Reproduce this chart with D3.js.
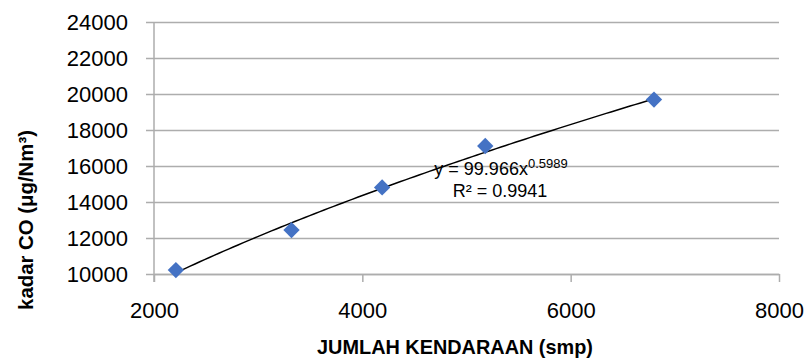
<!DOCTYPE html>
<html>
<head>
<meta charset="utf-8">
<script src="https://cdn.jsdelivr.net/npm/d3@7"></script>
<style>
  html, body { margin: 0; padding: 0; background: #fff; }
  svg { display: block; font-family: "Liberation Sans", Arial, sans-serif; }
</style>
</head>
<body>
<svg id="chart" width="810" height="363"></svg>
<script>
// Data
const jumlahKendaraan = [2210, 3320, 4190, 5180, 6800];
const kadarCO = [10220, 12440, 14810, 17110, 19690];
const xTicks = [2000, 4000, 6000, 8000];
const yTicks = [10000, 12000, 14000, 16000, 18000, 20000, 22000, 24000];
const trendCoef = [99.966, 0.5989];
const equationLines = ["y = 99.966x", "0.5989", "R² = 0.9941"];
const xTitle = "JUMLAH KENDARAAN (smp)";
const yTitle = "kadar CO (μg/Nm³)";

const svg = d3.select("#chart");
const pL = 154, pR = 779, pT = 22, pB = 274;
const x = d3.scaleLinear().domain([2000, 8000]).range([pL, pR]);
const y = d3.scaleLinear().domain([10000, 24000]).range([pB, pT]);
const gridColor = "#adadad";

// horizontal gridlines + y axis
const yAxis = d3.axisLeft(y).tickValues(yTicks).tickSize(-(pR - pL)).tickSizeOuter(0).tickPadding(26).tickFormat(d3.format("d"));
const gy = svg.append("g").attr("transform", `translate(${pL},0)`).call(yAxis);
gy.select(".domain").remove();
gy.selectAll(".tick line").attr("x1", -8).attr("stroke", gridColor).attr("stroke-width", 1.5);
gy.selectAll(".tick text").attr("font-size", 22).attr("fill", "#000").attr("font-family", "Liberation Sans, Arial, sans-serif");

// vertical axis line
svg.append("line").attr("x1", pL).attr("x2", pL).attr("y1", pT).attr("y2", pB + 8)
  .attr("stroke", gridColor).attr("stroke-width", 1.5);

// x axis
const xAxis = d3.axisBottom(x).tickValues(xTicks).tickSize(8).tickSizeOuter(0).tickPadding(20).tickFormat(d3.format("d"));
const gx = svg.append("g").attr("transform", `translate(0,${pB})`).call(xAxis);
gx.select(".domain").attr("stroke", gridColor).attr("stroke-width", 1.5);
gx.selectAll(".tick line").attr("stroke", gridColor).attr("stroke-width", 1.5);
gx.selectAll(".tick text").attr("font-size", 22).attr("fill", "#000").attr("font-family", "Liberation Sans, Arial, sans-serif");

// power trendline from the fitted coefficients, spanning the data range
const xMin = d3.min(jumlahKendaraan), xMax = d3.max(jumlahKendaraan);
const trendX = d3.range(0, 101).map(i => xMin + (xMax - xMin) * i / 100);
const line = d3.line().x(d => x(d)).y(d => y(trendCoef[0] * Math.pow(d, trendCoef[1])));
svg.append("path").datum(trendX).attr("d", line).attr("fill", "none")
  .attr("stroke", "#000").attr("stroke-width", 1.5);

// markers (diamonds)
const diamond = d3.symbol().type(d3.symbolDiamond2).size(170);
svg.append("g").selectAll("path").data(jumlahKendaraan).join("path")
  .attr("d", diamond)
  .attr("transform", (d, i) => `translate(${x(d)},${y(kadarCO[i])})`)
  .attr("fill", "#4472C4");

// equation label
const eq = svg.append("text").attr("x", 501).attr("y", 175).attr("text-anchor", "middle")
  .attr("font-size", 18).attr("fill", "#000");
eq.append("tspan").text(equationLines[0]);
eq.append("tspan").attr("font-size", 13).attr("dy", -7).text(equationLines[1]);
svg.append("text").attr("x", 500).attr("y", 197).attr("text-anchor", "middle")
  .attr("font-size", 18).attr("fill", "#000").text(equationLines[2]);

// axis titles, sized to the reference's text extent
function fitText(sel, target) {
  const w = sel.node().getComputedTextLength();
  const fs = +sel.attr("font-size");
  sel.attr("font-size", (fs * target / w).toFixed(2));
}
const xt = svg.append("text").attr("x", 455).attr("y", 354).attr("text-anchor", "middle")
  .attr("font-size", 20).attr("font-weight", "bold").attr("fill", "#000").text(xTitle);
fitText(xt, 276);
const yt = svg.append("text").attr("transform", "translate(33,220) rotate(-90)").attr("text-anchor", "middle")
  .attr("font-size", 18).attr("font-weight", "bold").attr("fill", "#000").text(yTitle);
fitText(yt, 180);
</script>
</body>
</html>
